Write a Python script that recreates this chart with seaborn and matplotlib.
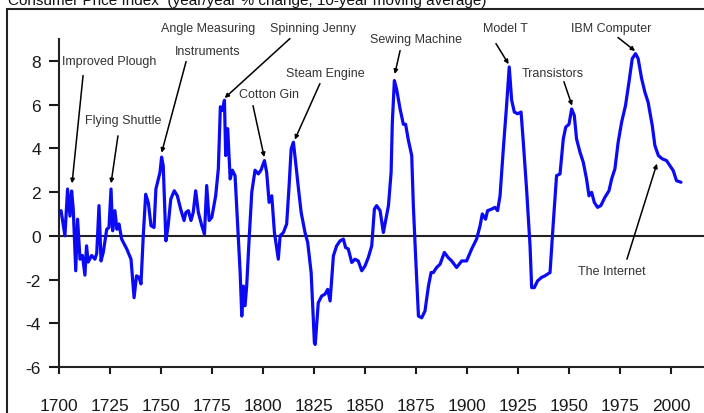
import matplotlib
matplotlib.use("Agg")
import matplotlib.pyplot as plt
from matplotlib.patches import Rectangle
import pandas as pd
import seaborn as sns

# values (year, 10-year moving average of CPI % change)
years = [1700, 1701, 1702.9, 1704.2, 1705.4, 1706.2, 1707, 1708.2, 1709.1, 1710.3,
         1711.5, 1712.7, 1713.5, 1714.3, 1716, 1717.6, 1718.5, 1719.6, 1720.6, 1721.7,
         1723.4, 1724.5, 1725.5, 1726.3, 1727.4, 1728.4, 1729.4, 1730.7, 1733.2, 1735.3,
         1736.8, 1738, 1739.2, 1740.2, 1741.3, 1742.5, 1743.8, 1745.1, 1746.6, 1747.5,
         1748.7, 1749.5, 1750.3, 1751.1, 1752.4, 1753.5, 1754.8, 1756.5, 1758, 1759.7,
         1761.3, 1762.2, 1763.4, 1764.7, 1765.8, 1767, 1768.3, 1770, 1771.3, 1772.4,
         1773.6, 1774.9, 1776.8, 1778.1, 1779.1, 1780.1, 1781.1, 1781.7, 1782.7, 1783.9,
         1785, 1786.3, 1787.6, 1788.8, 1789.6, 1790.4, 1791.2, 1792, 1793.2, 1794.5,
         1796.1, 1797.7, 1799, 1800.7, 1801.8, 1803, 1804.3, 1805.6, 1807.5, 1808.4,
         1810, 1811.6, 1812.8, 1813.8, 1814.9, 1816, 1817.4, 1818.7, 1820.6, 1821.9,
         1823.6, 1825.2, 1825.6, 1827.1, 1828.8, 1830.4, 1831.7, 1832.9, 1834.5, 1836.1,
         1837.8, 1839.4, 1840.5, 1841.8, 1843.5, 1845.1, 1846.7, 1848.4, 1850, 1851.6,
         1853.3, 1854.6, 1855.7, 1857.4, 1859, 1860.1, 1861.5, 1862.8, 1863.4, 1864.4,
         1865.5, 1867.2, 1868.8, 1869.9, 1871.2, 1872.9, 1873.7, 1874.8, 1876.2, 1877.8,
         1879.4, 1881.1, 1882.4, 1883.5, 1885.1, 1886.8, 1888.9, 1890.8, 1892.5, 1894.9,
         1897.4, 1899.8, 1902.3, 1904.7, 1906.4, 1907.5, 1909.1, 1910.1, 1912.1, 1913.7,
         1915, 1916.2, 1917.8, 1919.4, 1920.7, 1921.9, 1923.2, 1924.8, 1926.5, 1927.6,
         1929.2, 1930.9, 1931.7, 1933, 1934.6, 1936.6, 1938.2, 1940.7, 1942.3, 1943.9,
         1945.6, 1947.2, 1948.4, 1950, 1951.3, 1952.6, 1953.7, 1955.4, 1957, 1958.6,
         1959.8, 1961.1, 1962.4, 1964, 1965.6, 1967.6, 1969.6, 1970.9, 1972.5, 1974.1,
         1975.8, 1977.7, 1979.4, 1981, 1982.6, 1983.9, 1985.6, 1987.2, 1988.8, 1990.8,
         1992.1, 1993.8, 1995.7, 1997.8, 1999.5, 2001.1, 2002.7, 2004.9]
cpi = [1.07, 1.15, 0.0, 2.14, 0.9, 2.05, 1.2, -1.6, 0.76, -1.07,
       -0.9, -1.8, -0.46, -1.2, -0.9, -1.07, -0.8, 1.38, -1.15, -0.76,
       0.3, 0.38, 2.14, 0.23, 1.15, 0.3, 0.54, -0.15, -0.6, -1.07,
       -2.83, -1.83, -1.9, -2.2, 0.0, 1.9, 1.5, 0.46, 0.38, 2.14,
       2.6, 2.9, 3.6, 3.2, -0.23, 0.46, 1.68, 2.06, 1.83, 1.2,
       0.7, 1.07, 1.15, 0.7, 1.07, 2.06, 1.07, 0.46, 0.08, 2.3,
       0.7, 0.84, 1.83, 3.06, 5.9, 5.73, 6.2, 3.67, 4.9, 2.6,
       3.0, 2.75, 0.46, -1.68, -3.67, -2.3, -3.2, -2.3, -0.15, 2.0,
       3.0, 2.83, 3.0, 3.44, 2.9, 1.53, 1.83, 0.15, -1.07, 0.0,
       0.15, 0.54, 2.3, 3.97, 4.28, 3.36, 2.14, 1.07, 0.15, -0.3,
       -1.68, -4.9, -4.97, -3.06, -2.75, -2.67, -2.45, -2.98, -0.92, -0.46,
       -0.23, -0.15, -0.54, -0.6, -1.22, -1.07, -1.15, -1.6, -1.38, -1.0,
       -0.46, 1.22, 1.38, 1.15, 0.15, 0.7, 1.38, 2.9, 5.2, 7.1,
       6.7, 5.8, 5.1, 5.1, 4.4, 3.67, 1.38, -0.92, -3.67, -3.75,
       -3.44, -2.3, -1.68, -1.68, -1.45, -1.3, -0.76, -1.0, -1.15, -1.45,
       -1.15, -1.15, -0.6, -0.15, 0.46, 1.0, 0.76, 1.15, 1.22, 1.3,
       1.15, 1.83, 3.97, 5.96, 7.72, 6.2, 5.66, 5.58, 5.66, 4.28,
       2.14, -0.46, -2.37, -2.37, -2.06, -1.9, -1.83, -1.68, 0.6, 2.75,
       2.83, 4.43, 4.97, 5.1, 5.8, 5.5, 4.43, 3.82, 3.36, 2.6,
       1.83, 1.99, 1.53, 1.3, 1.38, 1.76, 2.06, 2.6, 3.06, 4.28,
       5.2, 5.96, 7.03, 8.1, 8.33, 8.1, 7.19, 6.57, 6.1, 5.05,
       4.13, 3.67, 3.52, 3.44, 3.2, 2.98, 2.52, 2.45]

year_ticks = [1700, 1725, 1750, 1775, 1800, 1825, 1850, 1875, 1900, 1925, 1950, 1975, 2000]
value_ticks = [-6, -4, -2, 0, 2, 4, 6, 8]

title = "Consumer Price Index  (year/year % change, 10-year moving average)"
inventions = ["Improved Plough", "Flying Shuttle", "Angle Measuring", "Instruments",
              "Spinning Jenny", "Cotton Gin", "Steam Engine", "Sewing Machine",
              "Model T", "Transistors", "IBM Computer", "The Internet"]

df = pd.DataFrame({"year": years, "cpi": cpi})

sns.set_style("white")
plt.rcParams["font.family"] = ["Liberation Sans", "DejaVu Sans"]
plt.rcParams["axes.unicode_minus"] = False

fig = plt.figure(figsize=(7.04, 4.14), dpi=100)
ax = fig.add_axes([59 / 704, 46 / 414, 645 / 704, 328 / 414])

sns.lineplot(data=df, x="year", y="cpi", color="#0a0af5", lw=2.3, ax=ax)
ax.axhline(0, color="#222222", lw=1.5, zorder=1)

ax.set_xlim(1700, 1700 + 645 / 2.04)
ax.set_ylim(-6, 9)
ax.set_xticks(year_ticks)
ax.set_yticks(value_ticks)
ax.set_xlabel("")
ax.set_ylabel("")
ax.tick_params(axis="x", direction="out", length=5, width=1.5, pad=17,
               labelsize=12.5, colors="#1a1a1a", bottom=True)
ax.tick_params(axis="y", direction="out", length=7, width=1.5, pad=6,
               labelsize=12.5, colors="#1a1a1a", left=True)
for side in ["top", "right"]:
    ax.spines[side].set_visible(False)
for side in ["left", "bottom"]:
    ax.spines[side].set_color("#222222")
    ax.spines[side].set_linewidth(1.5)

# arrows: (tip, tail) in data units
arrows = [((1706.4, 2.4), (1711.8, 7.33)),
          ((1725.5, 2.4), (1728.9, 4.57)),
          ((1750.3, 3.8), (1762.3, 7.97)),
          ((1781.2, 6.3), (1813.2, 9.02)),
          ((1800.6, 3.6), (1795.1, 5.95)),
          ((1815.6, 4.4), (1827.9, 6.96)),
          ((1864.6, 7.4), (1867.2, 8.47)),
          ((1920.4, 7.85), (1914.2, 8.79)),
          ((1951.5, 5.95), (1947.5, 7.05)),
          ((1982.4, 8.45), (1974.0, 9.07)),
          ((1993.1, 3.3), (1978.4, -1.07))]
for tip, tail in arrows:
    ax.annotate("", xy=tip, xytext=tail, annotation_clip=False,
                arrowprops=dict(arrowstyle="-|>", color="black", lw=1.1,
                                mutation_scale=6, shrinkA=0, shrinkB=0))

# label positions in data units
text_pos = [(1701.5, 8.0, "left"), (1731.4, 5.3, "center"), (1773, 9.52, "center"),
            (1773, 8.47, "center"), (1824.5, 9.52, "center"), (1803, 6.5, "center"),
            (1830.4, 7.46, "center"), (1875, 9.02, "center"), (1918.6, 9.52, "center"),
            (1942.2, 7.46, "center"), (1970.6, 9.52, "center"), (1971.1, -1.62, "center")]
for name, (tx, ty, ha) in zip(inventions, text_pos):
    ax.text(tx, ty, name, ha=ha, va="center", fontsize=9, color="#333333", clip_on=False)

fig.text(8 / 704, 1 - 5 / 414, title, ha="left", va="baseline", fontsize=11, color="#111111")
fig.patches.append(Rectangle((7 / 704, -0.1), 1.2, 1.1 - 10 / 414, transform=fig.transFigure,
                             fill=False, edgecolor="#222222", lw=1.5, zorder=0))

fig.savefig("out.png", dpi=100)
